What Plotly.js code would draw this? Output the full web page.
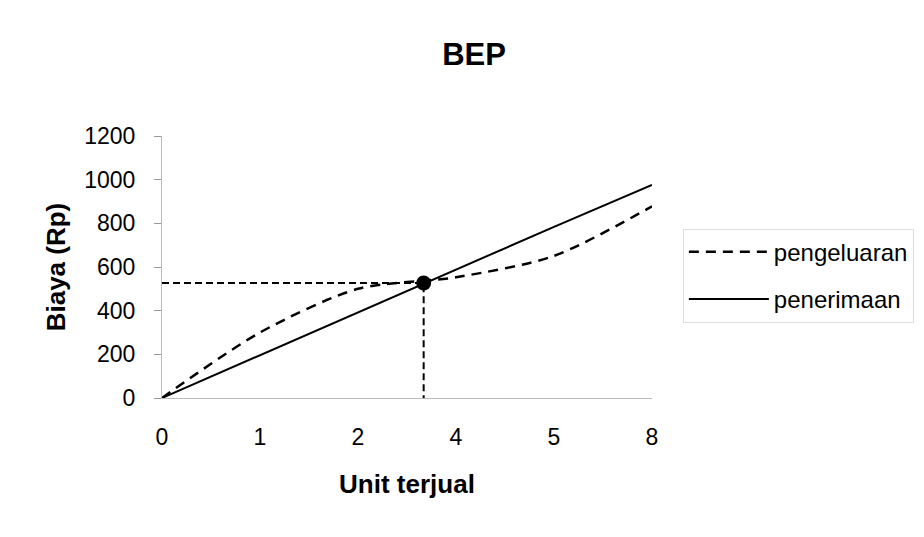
<!DOCTYPE html>
<html>
<head>
<meta charset="utf-8">
<script src="https://cdn.plot.ly/plotly-3.0.1.min.js"></script>
<style>html,body{margin:0;padding:0;background:#fff;}#chart{width:924px;height:537px;}</style>
</head>
<body>
<div id="chart"></div>
<script>
// Category labels of the x axis (units sold)
var unitLabels = ['0', '1', '2', '4', '5', '8'];
// Costs (pengeluaran) and revenue (penerimaan), Rp
var pengeluaran = [0, 300, 500, 553, 651, 878];
var penerimaan = [0, 196, 392, 588, 784, 976];
// Break-even point: position along the category axis and value
var bepPos = 2.67;
var bepValue = 527;
var yTicks = [0, 200, 400, 600, 800, 1000, 1200];

var xIdx = unitLabels.map(function (_, i) { return i; });
var font = 'Arial, "Liberation Sans", sans-serif';

var traces = [
  {
    x: [0, bepPos, bepPos], y: [bepValue, bepValue, 0],
    mode: 'lines', showlegend: false, hoverinfo: 'skip',
    line: {color: '#000', width: 2, dash: '7px,4px'}
  },
  {
    x: xIdx, y: pengeluaran, name: 'pengeluaran', mode: 'lines', legendgroup: 'a',
    line: {color: '#000', width: 2.5, dash: '10px,7px', shape: 'spline', smoothing: 0.8}
  },
  {
    x: xIdx, y: penerimaan, name: 'penerimaan', mode: 'lines', legendgroup: 'b',
    line: {color: '#000', width: 2}
  },
  {
    x: [bepPos], y: [bepValue], mode: 'markers', showlegend: false,
    marker: {color: '#000', size: 15}
  }
];

var layout = {
  width: 924, height: 537,
  margin: {l: 162, r: 272, t: 136, b: 139, autoexpand: false},
  paper_bgcolor: '#fff', plot_bgcolor: '#fff',
  font: {family: font, color: '#000', size: 23},
  title: {text: '<b>BEP</b>', font: {family: font, size: 31, color: '#000'},
          x: 0.513, xref: 'container', xanchor: 'center', y: 0.9, yanchor: 'middle'},
  xaxis: {
    range: [0, 5], tickvals: xIdx, ticktext: unitLabels,
    showgrid: false, zeroline: false, showline: true, linecolor: '#bbb', linewidth: 1,
    ticks: '', tickfont: {size: 23}, ticklabelstandoff: 18,
    title: {text: '<b>Unit terjual</b>', font: {size: 26}, standoff: 26}
  },
  yaxis: {
    range: [0, 1200], tickvals: yTicks,
    showgrid: false, zeroline: false, showline: true, linecolor: '#bbb', linewidth: 1,
    ticks: 'outside', ticklen: 7, tickcolor: '#999', tickfont: {size: 23}, ticklabelstandoff: 14,
    title: {text: '<b>Biaya (Rp)</b>', font: {size: 26}, standoff: 11}
  },
  legend: {
    x: 1.063, xanchor: 'left', y: 0.467, yanchor: 'middle',
    bordercolor: '#ddd', borderwidth: 1, bgcolor: 'rgba(0,0,0,0)',
    font: {size: 24}, itemwidth: 80, traceorder: 'grouped', tracegroupgap: 13
  },
  showlegend: true
};

Plotly.newPlot('chart', traces, layout, {displayModeBar: false, staticPlot: true});
</script>
</body>
</html>
